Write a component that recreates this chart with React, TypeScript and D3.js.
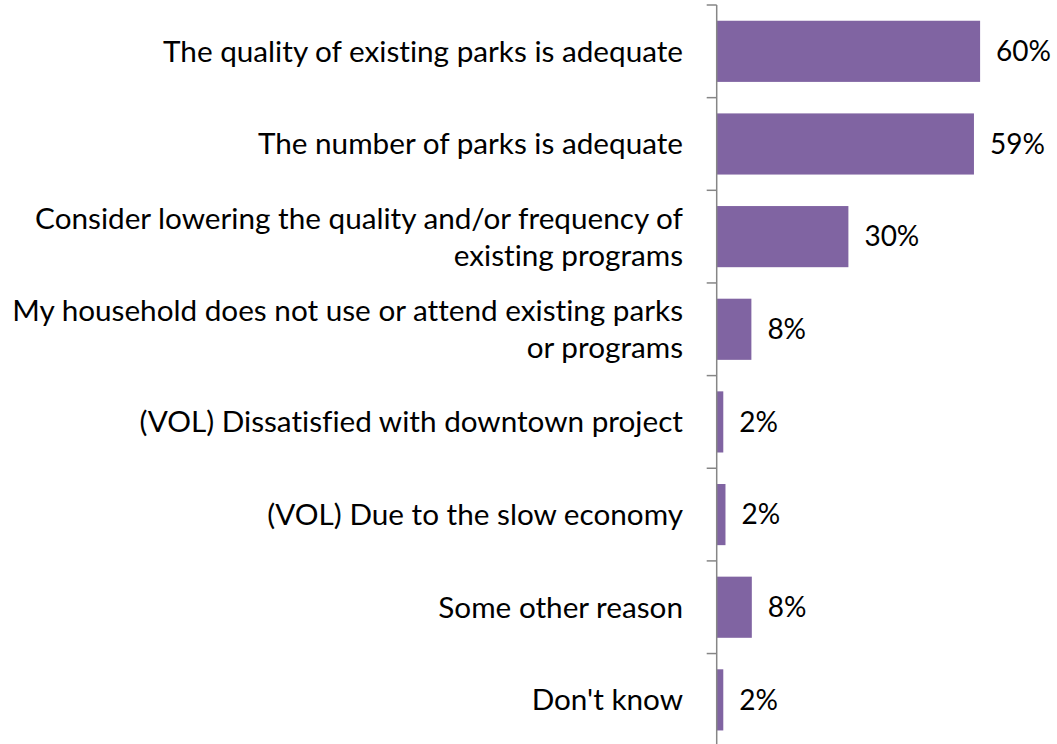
import React from "react";
import * as d3 from "d3";

const categories: string[][] = [
  ["The quality of existing parks is adequate"],
  ["The number of parks is adequate"],
  ["Consider lowering the quality and/or frequency of", "existing programs"],
  ["My household does not use or attend existing parks", "or programs"],
  ["(VOL) Dissatisfied with downtown project"],
  ["(VOL) Due to the slow economy"],
  ["Some other reason"],
  ["Don't know"],
];
const values: number[] = [60, 58.6, 30, 7.9, 1.5, 2.0, 8.0, 1.5];
const valueLabels: string[] = ["60%", "59%", "30%", "8%", "2%", "2%", "8%", "2%"];

const W = 1057;
const H = 744;
const axisX = 716.7;
const top = 5;
const step = 92.65;
const FONT = "Lato, 'Open Sans', sans-serif";
const FS = 29.7;
const FSV = 28;

export default function App() {
  const keys = categories.map((_, i) => String(i));
  const y = d3.scaleBand<string>().domain(keys).range([top, top + step * keys.length]).paddingInner(0.34).paddingOuter(0.17);
  const x = d3.scaleLinear().domain([0, 70]).range([axisX, axisX + 70 * 4.39]);
  const ticks = d3.range(keys.length + 1).map((i) => top + i * step);
  const lineGap = 37;

  return (
    <svg width={W} height={H} style={{ position: "absolute", left: 0, top: 0, background: "#fff", fontVariantLigatures: "none" }} fontFamily={FONT}>
      {keys.map((k, i) => (
        <rect key={"b" + k} x={x(0)} y={y(k)!} width={x(values[i]) - x(0)} height={y.bandwidth()} fill="#8064A2" />
      ))}
      <line x1={axisX} x2={axisX} y1={top} y2={H + 5} stroke="#868686" strokeWidth={1.5} />
      {ticks.map((t, i) => (
        <line key={"t" + i} x1={axisX - 10} x2={axisX} y1={t} y2={t} stroke="#868686" strokeWidth={1.5} />
      ))}
      {keys.map((k, i) => {
        const cy = y(k)! + y.bandwidth() / 2;
        const lines = categories[i];
        const start = cy - ((lines.length - 1) * lineGap) / 2;
        return (
          <text key={"l" + k} textAnchor="end" fontSize={FS} fill="#000">
            {lines.map((ln, j) => (
              <tspan key={j} x={683} y={start + j * lineGap} dy="0.35em">{ln}</tspan>
            ))}
          </text>
        );
      })}
      {keys.map((k, i) => (
        <text key={"v" + k} x={x(values[i]) + 16} y={y(k)! + y.bandwidth() / 2} dy="0.35em" fontSize={FSV} fill="#000">
          {valueLabels[i]}
        </text>
      ))}
    </svg>
  );
}
